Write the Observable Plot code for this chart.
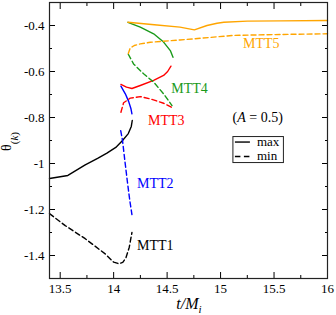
<!DOCTYPE html>
<html>
<head>
<meta charset="utf-8">
<script src="https://cdn.jsdelivr.net/npm/d3@7"></script>
<script src="https://cdn.jsdelivr.net/npm/@observablehq/plot@0.6"></script>
<style>
  html, body { margin: 0; padding: 0; background: #fff; }
</style>
</head>
<body>
<div id="chart"></div>
<script>
// ---- data ----
const xTicks = [13.5, 14, 14.5, 15, 15.5, 16];
const xMinor = [13.75, 14.25, 14.75, 15.25, 15.75];
const yTicks = [-1.4, -1.2, -1, -0.8, -0.6, -0.4];
const yMinor = [-1.5, -1.3, -1.1, -0.9, -0.7, -0.5, -0.3];

const mtt1Max = [[13.4,-1.065],[13.572,-1.052],[13.734,-1.006],[13.85,-0.978],[13.937,-0.955],[14.02,-0.93],[14.083,-0.9],[14.137,-0.87],[14.165,-0.839],[14.174,-0.813]];
const mtt1Min = [[13.4,-1.218],[13.547,-1.27],[13.734,-1.327],[13.921,-1.393],[14.0,-1.429],[14.05,-1.436],[14.085,-1.43],[14.115,-1.41],[14.146,-1.364],[14.171,-1.3]];
const mtt2Max = [[14.068,-0.664],[14.109,-0.697],[14.14,-0.73],[14.162,-0.762],[14.171,-0.784]];
const mtt2Min = [[14.066,-0.857],[14.083,-0.9],[14.099,-0.965],[14.127,-1.074],[14.151,-1.161],[14.171,-1.222]];
const mtt3Max = [[14.068,-0.656],[14.12,-0.668],[14.171,-0.674],[14.249,-0.661],[14.374,-0.639],[14.467,-0.617],[14.505,-0.6],[14.536,-0.577]];
const mtt3Min = [[14.068,-0.777],[14.093,-0.736],[14.155,-0.716],[14.249,-0.709],[14.343,-0.719],[14.467,-0.738],[14.546,-0.757]];
const mtt4Max = [[14.134,-0.386],[14.249,-0.407],[14.374,-0.436],[14.467,-0.472],[14.53,-0.509],[14.555,-0.538]];
const mtt4Min = [[14.137,-0.525],[14.186,-0.567],[14.28,-0.61],[14.374,-0.646],[14.467,-0.697],[14.546,-0.748]];
const mtt5Max = [[14.134,-0.386],[14.38,-0.397],[14.62,-0.407],[14.755,-0.419],[14.873,-0.4],[14.967,-0.39],[15.03,-0.386],[15.25,-0.381],[15.56,-0.38],[16,-0.378]];
const mtt5Min = [[14.137,-0.522],[14.155,-0.498],[14.193,-0.487],[14.249,-0.48],[14.343,-0.473],[14.62,-0.463],[14.748,-0.458],[15.122,-0.443],[15.56,-0.439],[16,-0.436]];

const curveLabels = [
  {text: "MTT1", x: 14.218, y: -1.357, color: "black"},
  {text: "MTT2", x: 14.218, y: -1.088, color: "#0000ff"},
  {text: "MTT3", x: 14.321, y: -0.813, color: "#ff0000"},
  {text: "MTT4", x: 14.539, y: -0.675, color: "#1a9a1a"},
  {text: "MTT5", x: 15.21,  y: -0.480, color: "#ffa500"}
];
const noteLabel = [{x: 15.117, y: -0.801}];

const colors = {mtt1: "black", mtt2: "#0000ff", mtt3: "#ff0000", mtt4: "#1a9a1a", mtt5: "#ffa500"};
const dash = "5,3";
const lw = 1.4;

const line = (data, color, dashed) => Plot.line(data, {
  x: d => d[0], y: d => d[1], stroke: color, strokeWidth: lw,
  strokeDasharray: dashed ? dash : null, curve: "linear"
});

const fmt = d => String(d);

const plot = Plot.plot({
  width: 336,
  height: 315,
  marginLeft: 49,
  marginRight: 9,
  marginTop: 2,
  marginBottom: 37,
  style: {fontFamily: "'Liberation Serif', serif", fontSize: "13px", background: "white", color: "black"},
  x: {domain: [13.4, 16]},
  y: {domain: [-1.5, -0.3]},
  marks: [
    line(mtt1Max, colors.mtt1, false),
    line(mtt1Min, colors.mtt1, true),
    line(mtt2Max, colors.mtt2, false),
    line(mtt2Min, colors.mtt2, true),
    line(mtt3Max, colors.mtt3, false),
    line(mtt3Min, colors.mtt3, true),
    line(mtt4Max, colors.mtt4, false),
    line(mtt4Min, colors.mtt4, true),
    line(mtt5Max, colors.mtt5, false),
    line(mtt5Min, colors.mtt5, true),
    Plot.text(curveLabels, {x: "x", y: "y", text: "text", fill: "color", textAnchor: "start", fontSize: 14}),
    Plot.axisX(xTicks, {anchor: "bottom", tickSize: -6, tickPadding: 11, tickFormat: fmt, label: null, fontSize: 13}),
    Plot.axisX(xMinor, {anchor: "bottom", tickSize: -3, tickFormat: () => "", label: null}),
    Plot.axisX(xTicks, {anchor: "top", tickSize: -6, tickFormat: () => "", label: null}),
    Plot.axisX(xMinor, {anchor: "top", tickSize: -3, tickFormat: () => "", label: null}),
    Plot.axisY(yTicks, {anchor: "left", tickSize: -6, tickPadding: 11, tickFormat: fmt, label: null, fontSize: 13}),
    Plot.axisY(yMinor, {anchor: "left", tickSize: -3, tickFormat: () => "", label: null}),
    Plot.axisY(yTicks, {anchor: "right", tickSize: -6, tickFormat: () => "", label: null}),
    Plot.axisY(yMinor, {anchor: "right", tickSize: -3, tickFormat: () => "", label: null}),
    Plot.frame({stroke: "#222", strokeWidth: 1.2})
  ]
});

document.getElementById("chart").appendChild(plot);

const svg = d3.select(plot);
const sx = plot.scale("x"), sy = plot.scale("y");

// (A = 0.5) annotation
const note = svg.append("text")
  .attr("x", sx.apply(noteLabel[0].x)).attr("y", sy.apply(noteLabel[0].y))
  .attr("dy", "0.32em").attr("text-anchor", "start")
  .attr("font-size", 14).attr("font-family", "'Liberation Serif', serif").attr("fill", "black");
note.append("tspan").text("(");
note.append("tspan").attr("font-style", "italic").text("A");
note.append("tspan").text(" = 0.5)");

// legend
const lx = sx.apply(15.12), ly = sy.apply(-0.885);
const g = svg.append("g").attr("font-family", "'Liberation Serif', serif").attr("font-size", 13).attr("text-anchor", "start");
g.append("rect").attr("x", lx).attr("y", ly).attr("width", 50.5).attr("height", 26)
  .attr("fill", "white").attr("stroke", "#222").attr("stroke-width", 1);
g.append("line").attr("x1", lx + 2).attr("x2", lx + 17).attr("y1", ly + 5.5).attr("y2", ly + 5.5)
  .attr("stroke", "black").attr("stroke-width", lw);
g.append("line").attr("x1", lx + 2).attr("x2", lx + 17).attr("y1", ly + 20).attr("y2", ly + 20)
  .attr("stroke", "black").attr("stroke-width", lw).attr("stroke-dasharray", "5.5,3.5");
g.append("text").attr("x", lx + 24).attr("y", ly + 9).attr("fill", "black").text("max");
g.append("text").attr("x", lx + 24).attr("y", ly + 23.5).attr("fill", "black").text("min");

// x axis label
const xl = svg.append("text").attr("x", 189).attr("y", 309).attr("text-anchor", "middle")
  .attr("font-family", "'Liberation Serif', serif").attr("font-size", 16).attr("font-style", "italic");
xl.append("tspan").text("t/M");
xl.append("tspan").attr("font-size", 11).attr("dy", 4).text("i");

// y axis label
const yl = svg.append("text").attr("transform", "translate(11,151) rotate(-90)").attr("text-anchor", "start")
  .attr("font-family", "'Liberation Serif', serif").attr("font-size", 14);
yl.append("tspan").text("θ");
yl.append("tspan").attr("font-size", 11).attr("dy", 7).text("(");
yl.append("tspan").attr("font-size", 11).attr("font-style", "italic").text("k");
yl.append("tspan").attr("font-size", 11).text(")");
</script>
</body>
</html>
